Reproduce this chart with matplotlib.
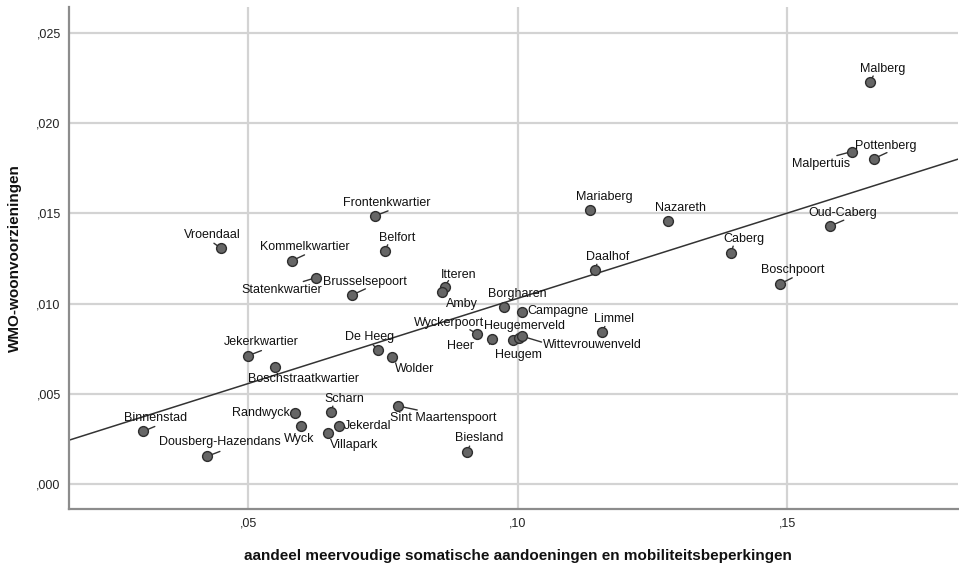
import numpy as np
import matplotlib
matplotlib.use("Agg")
import matplotlib.pyplot as plt
from matplotlib.ticker import FuncFormatter

# ---- data ----
names = ["Malberg", "Pottenberg", "Malpertuis", "Oud-Caberg", "Caberg", "Boschpoort",
         "Mariaberg", "Nazareth", "Daalhof", "Borgharen", "Campagne", "Limmel",
         "Itteren", "Amby", "Wyckerpoort", "Heer", "Heugem", "Heugemerveld",
         "Wittevrouwenveld", "Wolder", "De Heeg", "Jekerkwartier", "Boschstraatkwartier",
         "Binnenstad", "Dousberg-Hazendans", "Randwyck", "Wyck", "Scharn", "Jekerdal",
         "Villapark", "Sint Maartenspoort", "Biesland", "Frontenkwartier", "Belfort",
         "Vroendaal", "Kommelkwartier", "Statenkwartier", "Brusselsepoort"]
x_vals = [0.1654, 0.1661, 0.1620, 0.1579, 0.1396, 0.1487,
          0.1134, 0.1279, 0.1143, 0.0975, 0.1008, 0.1156,
          0.0864, 0.0859, 0.0924, 0.0953, 0.0991, 0.1002,
          0.1007, 0.0766, 0.0741, 0.0500, 0.0550,
          0.0304, 0.0423, 0.0587, 0.0598, 0.0653, 0.0668,
          0.0647, 0.0778, 0.0905, 0.0735, 0.0753,
          0.0449, 0.0580, 0.0626, 0.0693]
y_vals = [0.02227, 0.01803, 0.01842, 0.01429, 0.01280, 0.01110,
          0.01519, 0.01458, 0.01185, 0.00981, 0.00954, 0.00841,
          0.01095, 0.01067, 0.00834, 0.00804, 0.00797, 0.00810,
          0.00821, 0.00705, 0.00743, 0.00713, 0.00651,
          0.00293, 0.00155, 0.00398, 0.00321, 0.00400, 0.00326,
          0.00286, 0.00434, 0.00179, 0.01486, 0.01293,
          0.01307, 0.01237, 0.01145, 0.01049]
x_ticks = [0.05, 0.10, 0.15]
y_ticks = [0.000, 0.005, 0.010, 0.015, 0.020, 0.025]
x_label = "aandeel meervoudige somatische aandoeningen en mobiliteitsbeperkingen"
y_label = "WMO-woonvoorzieningen"

# ---- label layout (offset pixels from point: dx, dy(up), ha) ----
label_pos = {
    "Malberg": (13, 13, "center"), "Pottenberg": (12, 13, "center"),
    "Malpertuis": (-31, -12, "center"), "Oud-Caberg": (13, 13, "center"),
    "Caberg": (13, 14, "center"), "Boschpoort": (13, 14, "center"),
    "Mariaberg": (14, 13, "center"), "Nazareth": (12, 13, "center"),
    "Daalhof": (13, 13, "center"), "Borgharen": (13, 13, "center"),
    "Campagne": (5, 1, "left"), "Limmel": (12, 13, "center"),
    "Itteren": (14, 12, "center"), "Amby": (20, -12, "center"),
    "Wyckerpoort": (-28, 11, "center"), "Heer": (-32, -7, "center"),
    "Heugem": (5, -15, "center"), "Heugemerveld": (6, 12, "center"),
    "Wittevrouwenveld": (71, -9, "center"), "Wolder": (23, -12, "center"),
    "De Heeg": (-9, 13, "center"), "Jekerkwartier": (13, 14, "center"),
    "Boschstraatkwartier": (28, -12, "center"), "Binnenstad": (13, 13, "center"),
    "Dousberg-Hazendans": (13, 14, "center"), "Randwyck": (-5, 0, "right"),
    "Wyck": (-2, -13, "center"), "Scharn": (13, 13, "center"),
    "Jekerdal": (5, 0, "left"), "Villapark": (27, -12, "center"),
    "Sint Maartenspoort": (45, -12, "center"), "Biesland": (13, 14, "center"),
    "Frontenkwartier": (12, 13, "center"), "Belfort": (12, 13, "center"),
    "Vroendaal": (-9, 13, "center"), "Kommelkwartier": (13, 14, "center"),
    "Statenkwartier": (-35, -12, "center"), "Brusselsepoort": (13, 13, "center"),
}
# leader-line end points (offset pixels from point, up positive)
leaders = {
    "Malberg": (3, 6), "Pottenberg": (13, 6), "Malpertuis": (-15, -4),
    "Oud-Caberg": (14, 6), "Caberg": (2, 7), "Boschpoort": (12, 6),
    "Daalhof": (2, 6), "Limmel": (3, 6), "Itteren": (4, 6),
    "Wyckerpoort": (-7, 4), "Heer": (-3, -5), "Wittevrouwenveld": (20, -6),
    "De Heeg": (-5, 5), "Wolder": (4, -5), "Jekerkwartier": (13, 5),
    "Binnenstad": (12, 5), "Dousberg-Hazendans": (13, 5), "Scharn": (2, 6),
    "Villapark": (2, -5), "Sint Maartenspoort": (19, -4), "Biesland": (3, 6),
    "Frontenkwartier": (13, 5), "Belfort": (3, 6), "Vroendaal": (-7, 5),
    "Kommelkwartier": (13, 6), "Statenkwartier": (-13, -4), "Brusselsepoort": (13, 6),
}

plt.rcParams["font.family"] = ["Liberation Sans", "DejaVu Sans"]

fig = plt.figure(figsize=(9.59, 5.65), dpi=100)
ax = fig.add_axes([69 / 959, 1 - 509 / 565, 889 / 959, 502 / 565])

ax.set_xlim(0.0167, 0.1817)
ax.set_ylim(-0.00136, 0.02642)

grid_c = "#d3d3d3"
for xt in x_ticks:
    ax.axvline(xt, color=grid_c, lw=1.6, zorder=0)
for yt in y_ticks:
    ax.axhline(yt, color=grid_c, lw=1.6, zorder=0)

ax.set_xticks(x_ticks)
ax.set_yticks(y_ticks)
ax.xaxis.set_major_formatter(FuncFormatter(lambda v, p: ("%.2f" % v).lstrip("0").replace(".", ",")))
ax.yaxis.set_major_formatter(FuncFormatter(lambda v, p: ("%.3f" % v).lstrip("0").replace(".", ",")))
ax.tick_params(length=0, labelsize=9, colors="#222222", pad=6)

for s in ["top", "right"]:
    ax.spines[s].set_visible(False)
for s in ["left", "bottom"]:
    ax.spines[s].set_color("#8c8c8c")
    ax.spines[s].set_linewidth(1.6)

# regression line from data
xa = np.array(x_vals)
ya = np.array(y_vals)
b1, b0 = np.polyfit(xa, ya, 1)
xl = np.array(ax.get_xlim())
ax.plot(xl, b0 + b1 * xl, color="#333333", lw=1.1, zorder=2)

ax.scatter(xa, ya, s=50, facecolor="#666666", edgecolor="#2e2e2e", linewidths=1.0, zorder=3)

for n, xv, yv in zip(names, x_vals, y_vals):
    dx, dy, ha = label_pos[n]
    ax.annotate(n, xy=(xv, yv), xytext=(dx, dy), textcoords="offset pixels",
                ha=ha, va="center", fontsize=9, color="#111111", zorder=4)
    if n in leaders:
        lx, ly = leaders[n]
        ax.annotate("", xy=(xv, yv), xytext=(lx, ly), textcoords="offset pixels",
                    arrowprops=dict(arrowstyle="-", color="#333333", lw=1.0,
                                    shrinkA=0, shrinkB=0), zorder=2.5)

fig.text(518 / 959, 1 - 556 / 565, x_label, ha="center", va="center",
         fontsize=11, fontweight="bold", color="#111111")
fig.text(15 / 959, 1 - 258 / 565, y_label, ha="center", va="center", rotation=90,
         fontsize=11, fontweight="bold", color="#111111")

fig.savefig("out.png", dpi=100)
